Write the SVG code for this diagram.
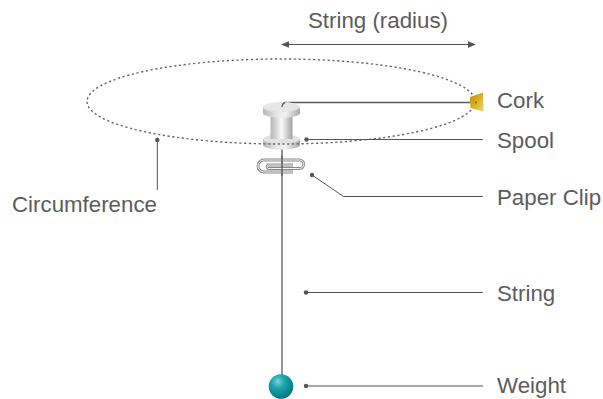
<svg xmlns="http://www.w3.org/2000/svg" width="603" height="399" viewBox="0 0 603 399">
  <style>
    .label { font-family: "Liberation Sans", Arial, sans-serif; font-size: 22.3px; fill: #5c5c5c; }
    .leader { fill: none; stroke: #555555; stroke-width: 1; }
    .dot { fill: #555555; }
    .thread { fill: none; stroke: #5a5a5a; stroke-width: 1.3; }
  </style>
  <defs>
    <marker id="arrow" viewBox="0 0 8 8" refX="7" refY="4" markerWidth="8" markerHeight="8" markerUnits="userSpaceOnUse" orient="auto-start-reverse">
      <path d="M0,0.8 L8,4 L0,7.2 Z" fill="#555555"/>
    </marker>
    <linearGradient id="spoolSide" x1="0" y1="0" x2="1" y2="0">
      <stop offset="0" stop-color="#b8b8b8"/>
      <stop offset="0.35" stop-color="#e4e4e4"/>
      <stop offset="0.6" stop-color="#f2f2f2"/>
      <stop offset="1" stop-color="#a8a8a8"/>
    </linearGradient>
    <linearGradient id="spoolBody" x1="0" y1="0" x2="1" y2="0">
      <stop offset="0" stop-color="#b5b5b5"/>
      <stop offset="0.3" stop-color="#dcdcdc"/>
      <stop offset="0.5" stop-color="#fafafa"/>
      <stop offset="0.7" stop-color="#d8d8d8"/>
      <stop offset="1" stop-color="#a0a0a0"/>
    </linearGradient>
    <linearGradient id="corkFill" x1="0" y1="0" x2="1" y2="1">
      <stop offset="0" stop-color="#b89000"/>
      <stop offset="0.5" stop-color="#d8b020"/>
      <stop offset="1" stop-color="#f0d870"/>
    </linearGradient>
    <radialGradient id="ball" cx="0.38" cy="0.3" r="0.75">
      <stop offset="0" stop-color="#7fd3d8"/>
      <stop offset="0.35" stop-color="#1ca6ae"/>
      <stop offset="1" stop-color="#007480"/>
    </radialGradient>
  </defs>

  <!-- radius dimension -->
  <g id="radius">
    <line x1="282" y1="44.5" x2="475" y2="44.5" stroke="#555555" stroke-width="1.2" marker-start="url(#arrow)" marker-end="url(#arrow)"/>
    <text class="label" x="378" y="28" text-anchor="middle">String (radius)</text>
  </g>

  <!-- connectors: hanging string and thread to cork -->
  <g id="connectors">
    <path class="thread" d="M282 112 Q282.5 103 285 102.5 H473"/>
    <line class="thread" x1="282" y1="146" x2="282" y2="376"/>
  </g>

  <!-- spool -->
  <g id="spool">
    <!-- bottom flange -->
    <path d="M263 139 V145 A18.5 4.5 0 0 0 300 145 V139 Z" fill="url(#spoolSide)"/>
    <ellipse cx="281.5" cy="139" rx="18.5" ry="4.5" fill="#e2e2e2"/>
    <!-- barrel -->
    <rect x="270.5" y="112" width="22" height="27" fill="url(#spoolBody)"/>
    <!-- top flange -->
    <path d="M263 107 V113 A18.5 5 0 0 0 300 113 V107 Z" fill="url(#spoolSide)"/>
    <ellipse cx="281.5" cy="107" rx="18.5" ry="5" fill="#e6e6e6"/>
    <path class="thread" d="M282 107 Q282.5 103 285 102.5"/>
  </g>

  <!-- orbit of the cork -->
  <g id="circumference">
    <ellipse cx="281" cy="101.5" rx="194" ry="42.5" fill="none" stroke="#666666" stroke-width="1.4" stroke-dasharray="2.2 2.6"/>
  </g>

  <!-- cork -->
  <g id="cork">
    <path d="M470 97 L483 92.5 L483.5 111.5 L470.5 108 Z" fill="url(#corkFill)"/>
    <circle cx="476" cy="102.5" r="0.9" fill="#7a6200"/>
  </g>

  <!-- paper clip -->
  <g id="paper-clip">
    <path d="M293 165 H268 A2 2 0 0 0 268 168.5 H299.5 A4.25 4.25 0 0 0 299.5 160 H264 A6 6 0 0 0 264 172 H293" fill="none" stroke="#8a8a8a" stroke-width="2.8"/>
    <path d="M293 165 H268 A2 2 0 0 0 268 168.5 H299.5 A4.25 4.25 0 0 0 299.5 160 H264 A6 6 0 0 0 264 172 H293" fill="none" stroke="#ffffff" stroke-width="0.9"/>
    <line class="thread" x1="282" y1="156" x2="282" y2="176"/>
  </g>

  <!-- weight -->
  <g id="weight">
    <circle cx="281" cy="386.5" r="12.3" fill="url(#ball)"/>
  </g>

  <!-- callouts -->
  <g id="label-cork">
    <text class="label" x="497" y="108">Cork</text>
  </g>
  <g id="label-spool">
    <circle class="dot" cx="306.5" cy="139.5" r="2.2"/>
    <line class="leader" x1="306.5" y1="139.5" x2="483" y2="139.5"/>
    <text class="label" x="497" y="148">Spool</text>
  </g>
  <g id="label-paper-clip">
    <circle class="dot" cx="312" cy="175" r="2.2"/>
    <polyline class="leader" points="312,175 343.5,196.5 483,196.5"/>
    <text class="label" x="497" y="205">Paper Clip</text>
  </g>
  <g id="label-string">
    <circle class="dot" cx="306" cy="292.5" r="2.2"/>
    <line class="leader" x1="306" y1="292.5" x2="483" y2="292.5"/>
    <text class="label" x="497" y="301">String</text>
  </g>
  <g id="label-weight">
    <circle class="dot" cx="306" cy="386" r="2.2"/>
    <line class="leader" x1="306" y1="386" x2="483" y2="386"/>
    <text class="label" x="497" y="393">Weight</text>
  </g>
  <g id="label-circumference">
    <circle class="dot" cx="157.3" cy="140" r="2.2"/>
    <line class="leader" x1="157.3" y1="140" x2="157.3" y2="190"/>
    <text class="label" x="12" y="212">Circumference</text>
  </g>
</svg>
